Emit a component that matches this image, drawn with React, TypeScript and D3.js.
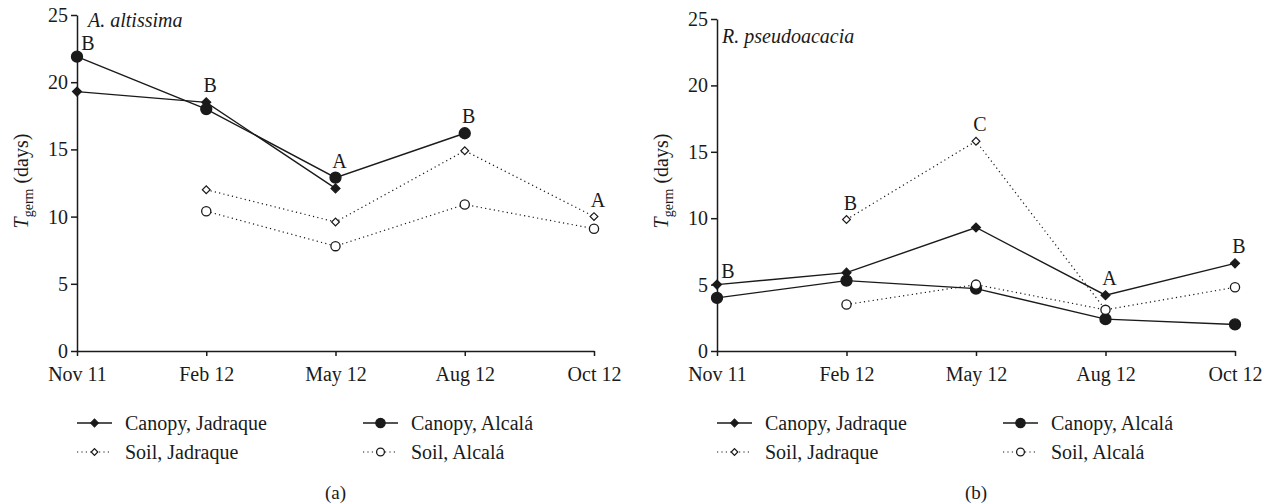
import React, { useRef, useEffect } from 'react';
import * as d3 from 'd3';

// sampling dates and axis ticks
const dates = ['Nov 11', 'Feb 12', 'May 12', 'Aug 12', 'Oct 12'];
const yTicks = [0, 5, 10, 15, 20, 25];

// A. altissima, T germ (days)
const altCanopyJadraque = [19.3, 18.5, 12.1, null, null];
const altCanopyAlcala = [21.9, 18.0, 12.9, 16.2, null];
const altSoilJadraque = [null, 12.0, 9.6, 14.9, 10.0];
const altSoilAlcala = [null, 10.4, 7.8, 10.9, 9.1];
const altLetters = ['B', 'B', 'A', 'B', 'A'];

// R. pseudoacacia, T germ (days)
const robCanopyJadraque = [5.0, 5.9, 9.3, 4.2, 6.6];
const robCanopyAlcala = [4.0, 5.3, 4.7, 2.4, 2.0];
const robSoilJadraque = [null, 9.9, 15.8, 3.1, null];
const robSoilAlcala = [null, 3.5, 5.0, 3.1, 4.8];
const robLetters = ['B', 'B', 'C', 'A', 'B'];

const seriesLabels = ['Canopy, Jadraque', 'Canopy, Alcalá', 'Soil, Jadraque', 'Soil, Alcalá'];

const FONT = 'Liberation Serif, serif';
const INK = '#1a1a1a';

type Series = { values: (number | null)[]; shape: 'diamond' | 'circle'; filled: boolean; dotted: boolean; label: string };

const makeSeries = (cj, ca, sj, sa): Series[] => [
  { values: cj, shape: 'diamond', filled: true, dotted: false, label: seriesLabels[0] },
  { values: ca, shape: 'circle', filled: true, dotted: false, label: seriesLabels[1] },
  { values: sj, shape: 'diamond', filled: false, dotted: true, label: seriesLabels[2] },
  { values: sa, shape: 'circle', filled: false, dotted: true, label: seriesLabels[3] },
];

const drawMarker = (g, shape, filled, cx, cy, scale = 1) => {
  if (shape === 'circle') {
    g.append('circle')
      .attr('cx', cx).attr('cy', cy)
      .attr('r', (filled ? 5.5 : 4.6) * scale)
      .attr('fill', filled ? INK : '#fff')
      .attr('stroke', INK)
      .attr('stroke-width', 1.3);
  } else {
    const size = (filled ? 40 : 30) * scale * scale;
    g.append('path')
      .attr('d', d3.symbol(d3.symbolSquare, size)())
      .attr('transform', `translate(${cx},${cy}) rotate(45)`)
      .attr('fill', filled ? INK : '#fff')
      .attr('stroke', INK)
      .attr('stroke-width', 1.2);
  }
};

const drawPanel = (svg, p) => {
  const x = d3.scalePoint().domain(dates).range([p.x0, p.x1]);
  const y = d3.scaleLinear().domain([0, 25]).range([351, p.yTop]);

  const gy = svg.append('g')
    .attr('transform', `translate(${p.x0},0)`)
    .call(d3.axisLeft(y).tickValues(yTicks).tickSize(6).tickSizeOuter(0).tickPadding(3));
  const gx = svg.append('g')
    .attr('transform', 'translate(0,351)')
    .call(d3.axisBottom(x).tickSize(5).tickSizeOuter(0).tickPadding(11));
  [gx, gy].forEach(g => {
    g.attr('font-family', FONT).attr('font-size', 20);
    g.selectAll('path, line').attr('stroke', INK).attr('stroke-width', 1.5);
    g.selectAll('text').attr('fill', INK);
  });

  // y axis title
  const yt = svg.append('text')
    .attr('transform', `translate(${p.x0 - 49},181) rotate(-90)`)
    .attr('text-anchor', 'middle')
    .attr('font-family', FONT).attr('font-size', 20).attr('fill', INK);
  yt.append('tspan').attr('font-style', 'italic').text('T');
  yt.append('tspan').attr('font-size', 14).attr('dy', 5).text('germ');
  yt.append('tspan').attr('dy', -5).text(' (days)');

  svg.append('text')
    .attr('x', p.titleX).attr('y', p.titleY)
    .attr('font-family', FONT).attr('font-size', 20).attr('font-style', 'italic').attr('fill', INK)
    .text(p.title);

  const line = d3.line<[number, number | null]>()
    .defined(d => d[1] !== null)
    .x(d => x(dates[d[0]]))
    .y(d => y(d[1] as number));

  p.series.forEach(s => {
    svg.append('path')
      .attr('d', line(s.values.map((v, i) => [i, v])))
      .attr('fill', 'none')
      .attr('stroke', INK)
      .attr('stroke-width', s.dotted ? 1.2 : 1.4)
      .attr('stroke-dasharray', s.dotted ? '1.2 3.2' : null);
  });

  p.series.forEach(s => {
    const g = svg.append('g');
    s.values.forEach((v, i) => {
      if (v === null) return;
      drawMarker(g, s.shape, s.filled, x(dates[i]), y(v));
    });
  });

  // significance letters above the highest point of each date
  p.letters.forEach((l, i) => {
    const top = d3.max(p.series.map(s => s.values[i]).filter(v => v !== null));
    svg.append('text')
      .attr('x', x(dates[i]) + (i === 0 ? 11 : 4))
      .attr('y', y(top) - (i === 0 ? 7 : 10))
      .attr('text-anchor', 'middle')
      .attr('font-family', FONT).attr('font-size', 20).attr('fill', INK)
      .text(l);
  });

  // legend
  const cols = [p.x0, p.x0 + 286];
  const rows = [423, 452];
  p.series.forEach((s, i) => {
    const lx = cols[i % 2];
    const ly = rows[Math.floor(i / 2)];
    const g = svg.append('g');
    g.append('line')
      .attr('x1', lx).attr('x2', lx + 35).attr('y1', ly).attr('y2', ly)
      .attr('stroke', INK)
      .attr('stroke-width', s.dotted ? 1.2 : 1.5)
      .attr('stroke-dasharray', s.dotted ? '1.2 3.2' : null);
    drawMarker(g, s.shape, s.filled, lx + 17.5, ly, 0.85);
    g.append('text')
      .attr('x', lx + 48).attr('y', ly + 7)
      .attr('font-family', FONT).attr('font-size', 20).attr('fill', INK)
      .text(s.label);
  });

  svg.append('text')
    .attr('x', (p.x0 + p.x1) / 2).attr('y', 499)
    .attr('text-anchor', 'middle')
    .attr('font-family', FONT).attr('font-size', 19).attr('fill', INK)
    .text(p.caption);
};

const App = () => {
  const ref = useRef<SVGSVGElement>(null);

  useEffect(() => {
    const svg = d3.select(ref.current);
    svg.selectAll('*').remove();

    drawPanel(svg, {
      x0: 77, x1: 594, yTop: 15,
      title: 'A. altissima', titleX: 88, titleY: 27,
      series: makeSeries(altCanopyJadraque, altCanopyAlcala, altSoilJadraque, altSoilAlcala),
      letters: altLetters, caption: '(a)',
    });
    drawPanel(svg, {
      x0: 717, x1: 1235, yTop: 19,
      title: 'R. pseudoacacia', titleX: 722, titleY: 43,
      series: makeSeries(robCanopyJadraque, robCanopyAlcala, robSoilJadraque, robSoilAlcala),
      letters: robLetters, caption: '(b)',
    });
  }, []);

  return (
    <svg
      ref={ref}
      width={1272}
      height={504}
      style={{ position: 'absolute', left: 0, top: 0, background: '#fff' }}
    />
  );
};

export default App;
